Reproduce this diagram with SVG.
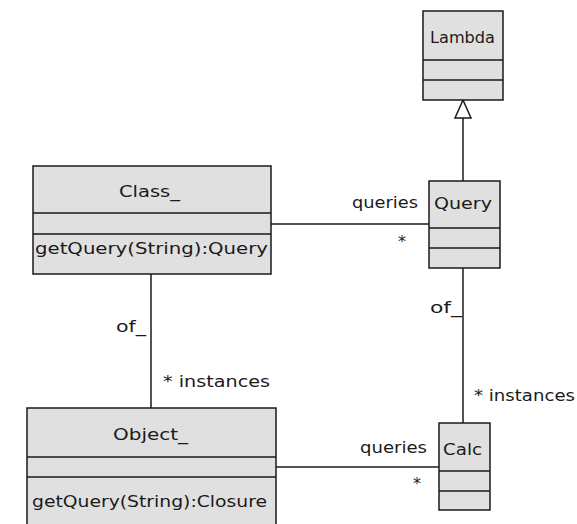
<svg xmlns="http://www.w3.org/2000/svg" width="577" height="524" viewBox="0 0 577 524">
<style>
.box{fill:#e0e0e0;stroke:#1a1a1a;stroke-width:1.5}
.div{stroke:#1a1a1a;stroke-width:1.5}
.ln{stroke:#1a1a1a;stroke-width:1.5;fill:none}
text{font-family:"DejaVu Sans","Liberation Sans",sans-serif;font-size:16px;fill:#1a1a1a}
</style>
<rect width="577" height="524" fill="#ffffff"/>
<g id="connectors">
<line class="ln" x1="463" y1="118" x2="463" y2="181"/>
<polygon points="463,100 455,118 471,118" fill="#ffffff" stroke="#1a1a1a" stroke-width="1.5"/>
<line class="ln" x1="271" y1="224" x2="429" y2="224"/>
<line class="ln" x1="151" y1="274" x2="151" y2="408"/>
<line class="ln" x1="463" y1="268" x2="463" y2="423"/>
<line class="ln" x1="276" y1="467" x2="439" y2="467"/>
<text x="352" y="208" textLength="66" lengthAdjust="spacingAndGlyphs">queries</text>
<text x="398" y="247">*</text>
<text x="116" y="332" textLength="30" lengthAdjust="spacingAndGlyphs">of_</text>
<text x="163" y="387" textLength="107" lengthAdjust="spacingAndGlyphs">* instances</text>
<text x="430" y="313" textLength="32" lengthAdjust="spacingAndGlyphs">of_</text>
<text x="474" y="401" textLength="101" lengthAdjust="spacingAndGlyphs">* instances</text>
<text x="360" y="453" textLength="67" lengthAdjust="spacingAndGlyphs">queries</text>
<text x="413" y="489">*</text>
</g>
<g id="Lambda">
<rect class="box" x="423" y="11" width="80" height="89"/>
<line class="div" x1="423" y1="60" x2="503" y2="60"/>
<line class="div" x1="423" y1="80" x2="503" y2="80"/>
<text x="430" y="43" textLength="65" lengthAdjust="spacingAndGlyphs">Lambda</text>
</g>
<g id="Query">
<rect class="box" x="429" y="181" width="71" height="87"/>
<line class="div" x1="429" y1="228" x2="500" y2="228"/>
<line class="div" x1="429" y1="248" x2="500" y2="248"/>
<text x="434" y="209" textLength="58" lengthAdjust="spacingAndGlyphs">Query</text>
</g>
<g id="Class_">
<rect class="box" x="33" y="166" width="238" height="108"/>
<line class="div" x1="33" y1="213" x2="271" y2="213"/>
<line class="div" x1="33" y1="234" x2="271" y2="234"/>
<text x="119" y="197" textLength="61" lengthAdjust="spacingAndGlyphs">Class_</text>
<text x="35" y="254" textLength="233" lengthAdjust="spacingAndGlyphs">getQuery(String):Query</text>
</g>
<g id="Object_">
<rect class="box" x="27" y="408" width="249" height="120"/>
<line class="div" x1="27" y1="457" x2="276" y2="457"/>
<line class="div" x1="27" y1="477" x2="276" y2="477"/>
<text x="113" y="440" textLength="75" lengthAdjust="spacingAndGlyphs">Object_</text>
<text x="32" y="507" textLength="235" lengthAdjust="spacingAndGlyphs">getQuery(String):Closure</text>
</g>
<g id="Calc">
<rect class="box" x="439" y="423" width="51" height="87"/>
<line class="div" x1="439" y1="471" x2="490" y2="471"/>
<line class="div" x1="439" y1="491" x2="490" y2="491"/>
<text x="443" y="455" textLength="39" lengthAdjust="spacingAndGlyphs">Calc</text>
</g>
</svg>
